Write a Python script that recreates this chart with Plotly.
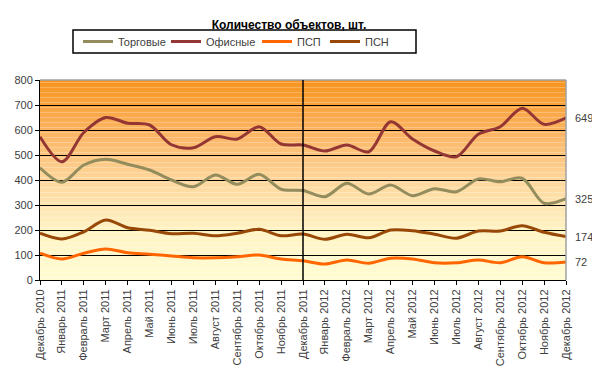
import plotly.graph_objects as go

months = ["Декабрь 2010", "Январь 2011", "Февраль 2011", "Март 2011", "Апрель 2011", "Май 2011",
          "Июнь 2011", "Июль 2011", "Август 2011", "Сентябрь 2011", "Октябрь 2011", "Ноябрь 2011",
          "Декабрь 2011", "Январь 2012", "Февраль 2012", "Март 2012", "Апрель 2012", "Май 2012",
          "Июнь 2012", "Июль 2012", "Август 2012", "Сентябрь 2012", "Октябрь 2012", "Ноябрь 2012",
          "Декабрь 2012"]

torgovye = [449, 391, 460, 483, 463, 440, 400, 373, 420, 383, 423, 363, 358,
            333, 387, 344, 380, 337, 365, 353, 404, 393, 407, 307, 325]
ofisnye = [573, 473, 590, 650, 627, 620, 541, 529, 573, 564, 613, 544, 540,
           516, 540, 513, 633, 564, 516, 493, 583, 613, 687, 623, 649]
psp = [107, 84, 107, 124, 109, 103, 96, 89, 89, 93, 100, 84, 77,
       64, 80, 67, 87, 84, 69, 69, 80, 69, 93, 69, 72]
psn = [187, 164, 193, 240, 209, 199, 185, 187, 177, 187, 203, 177, 184,
       163, 183, 169, 200, 197, 183, 167, 196, 196, 217, 191, 174]

series_names = ["Торговые", "Офисные", "ПСП", "ПСН"]
series_values = [torgovye, ofisnye, psp, psn]
series_colors = ["#938C5C", "#943634", "#FF6600", "#984807"]

title_text = "Количество объектов, шт."
FONT = "Arial, 'Liberation Sans', sans-serif"

# page body has an 8px default margin: shrink the figure so the plot lands where intended
OFF = 8
W, H = 600 - OFF, 368 - OFF
L, R, T, B = 40 - OFF, 34, 80 - OFF, 88
PW, PH = W - L - R, H - T - B  # 526 x 200

def px_x(px):  # window pixel -> paper x
    return (px - 40) / PW

def px_y(py):  # window pixel -> paper y
    return (280 - py) / PH

legend_ids = ["legend", "legend2", "legend3", "legend4"]
legend_text_px = [120, 208, 299, 367]

fig = go.Figure()
for name, vals, col, lid in zip(series_names, series_values, series_colors, legend_ids):
    fig.add_trace(go.Scatter(
        x=months, y=vals, name=name, mode="lines", legend=lid,
        line=dict(color=col, width=3, shape="spline", smoothing=0.9),
        hoverinfo="x+y+name",
    ))

stops = [(0, (255, 252, 210)), (200, (255, 243, 196)), (400, (253, 214, 155)),
         (600, (251, 178, 95)), (800, (247, 148, 29))]

def color_at(v):
    for (a, ca), (b, cb) in zip(stops[:-1], stops[1:]):
        if a <= v <= b:
            t = (v - a) / (b - a)
            return "rgb(%d,%d,%d)" % tuple(round(ca[i] + (cb[i] - ca[i]) * t) for i in range(3))
    return "rgb(%d,%d,%d)" % stops[-1][1]

shapes = []
step = 10
for v in range(0, 800, step):
    shapes.append(dict(type="rect", xref="paper", yref="y", x0=0, x1=1, y0=v, y1=v + step,
                       fillcolor=color_at(v + step / 2), line=dict(width=0), layer="below"))
shapes.append(dict(type="line", xref="paper", yref="paper", x0=0, x1=1, y0=1, y1=1,
                   line=dict(color="#A0A0A0", width=1.5), layer="above"))
shapes.append(dict(type="line", xref="paper", yref="paper", x0=1, x1=1, y0=0, y1=1,
                   line=dict(color="#A0A0A0", width=1.5), layer="above"))
shapes.append(dict(type="line", xref="x", yref="paper", x0=months[12], x1=months[12], y0=0, y1=1,
                   line=dict(color="black", width=1.5), layer="above"))
shapes.append(dict(type="rect", xref="paper", yref="paper",
                   x0=px_x(73), x1=px_x(416), y0=px_y(53), y1=px_y(30),
                   line=dict(color="black", width=1.5), fillcolor="white", layer="below"))

annotations = []
for vals in series_values:
    annotations.append(dict(xref="paper", yref="y", x=1, y=vals[-1], text=str(vals[-1]),
                            xanchor="left", yanchor="middle", xshift=7, showarrow=False,
                            font=dict(family=FONT, size=11, color="#404040")))

layout_legends = {}
for lid, tx in zip(legend_ids, legend_text_px):
    layout_legends[lid] = dict(
        orientation="h", x=px_x(tx - 42), xanchor="left", y=px_y(41.5), yanchor="middle",
        bgcolor="rgba(0,0,0,0)", borderwidth=0, itemwidth=30,
        font=dict(family=FONT, size=11, color="#404040"))

fig.update_layout(
    width=W, height=H,
    margin=dict(l=L, r=R, t=T, b=B, autoexpand=False),
    paper_bgcolor="white", plot_bgcolor="white",
    font=dict(family=FONT, size=11, color="#404040"),
    title=dict(text="<b>" + title_text + "</b>", x=(289 - OFF) / W, xanchor="center",
               y=1 - (25 - OFF) / H, yanchor="middle",
               font=dict(family=FONT, size=12, color="black")),
    showlegend=True,
    shapes=shapes,
    annotations=annotations,
    xaxis=dict(type="category", range=[0, len(months) - 1], tickangle=-90,
               showgrid=False, showline=True, linecolor="black", linewidth=1,
               ticks="outside", ticklen=4, tickcolor="black",
               tickfont=dict(family=FONT, size=11, color="#404040")),
    yaxis=dict(range=[0, 800], dtick=100, showgrid=True, gridcolor="black", gridwidth=1,
               showline=True, linecolor="black", linewidth=1, zeroline=False,
               ticks="outside", ticklen=4, tickcolor="black",
               tickfont=dict(family=FONT, size=11, color="#404040")),
    **layout_legends,
)

fig.write_html("out.html")
